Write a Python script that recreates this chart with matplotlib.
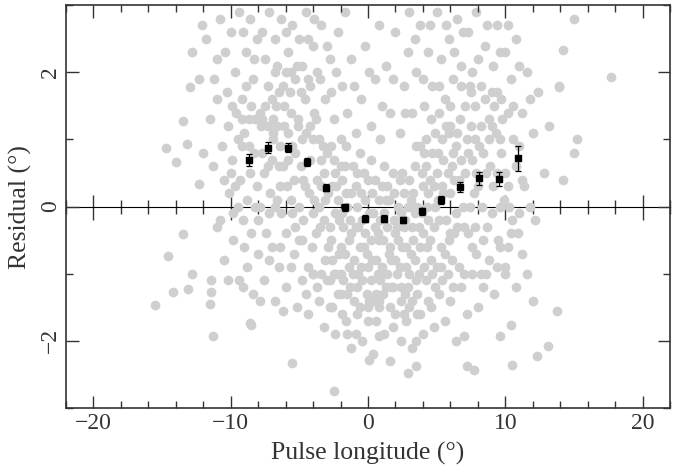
import matplotlib
matplotlib.use("Agg")
import matplotlib.pyplot as plt
from matplotlib.ticker import MultipleLocator, NullFormatter

# binned residuals (black points)
bin_lon = [-8.65, -7.25, -5.85, -4.45, -3.05, -1.65, -0.25, 1.15, 2.55,
           3.95, 5.3, 6.7, 8.1, 9.55, 10.95]
bin_res = [0.70, 0.88, 0.88, 0.67, 0.28, -0.01, -0.18, -0.18, -0.20,
           -0.07, 0.10, 0.29, 0.42, 0.41, 0.72]
bin_err = [0.09, 0.08, 0.07, 0.06, 0.05, 0.05, 0.05, 0.05, 0.05,
           0.05, 0.06, 0.07, 0.10, 0.11, 0.19]

# individual residuals (grey cloud)
core_pts = [
    (-9.3, 0.4), (-9.0, 1.1), (-8.8, 0.1), (-8.5, 1.5), (-8.3, 0.8), (-8.0, -0.2), (-7.8, 1.2),
    (-7.6, 0.5), (-7.3, 1.8), (-7.1, 0.2), (-6.9, 1.0), (-9.6, 1.4), (-8.1, 0.3), (-7.4, -0.4),
    (-9.9, 0.7), (-6.7, 1.5), (-6.5, 0.6), (-6.3, -0.1), (-6.1, 1.2), (-5.9, 0.3), (-5.7, 1.7),
    (-5.5, 0.9), (-5.3, -0.3), (-5.1, 1.3), (-6.8, 0.0), (-6.0, 2.0), (-5.6, 0.1), (-6.4, 0.9),
    (-4.9, 0.6), (-4.7, -0.2), (-4.5, 1.1), (-4.3, 0.2), (-4.1, -0.6), (-3.9, 1.4), (-3.7, 0.4),
    (-3.5, -0.3), (-3.3, 0.9), (-3.1, -0.8), (-4.6, 1.6), (-4.0, -0.1), (-3.6, 0.0), (-4.8, -0.5),
    (-3.2, 0.5), (-2.9, 0.2), (-2.7, -0.5), (-2.5, 0.7), (-2.3, -1.0), (-2.1, -0.2), (-1.9, 0.4),
    (-1.7, -0.7), (-1.5, 0.0), (-1.3, -1.2), (-1.1, 0.6), (-2.8, -1.1), (-2.4, -0.1), (-2.0, -0.6),
    (-1.6, 0.9), (-1.2, -0.4), (-2.6, 0.3), (-1.4, -0.9), (-0.9, -0.3), (-0.7, -1.0), (-0.5, 0.2),
    (-0.3, -0.6), (-0.1, -1.3), (0.1, -0.1), (0.3, -0.8), (0.5, 0.4), (0.7, -0.4), (0.9, -1.1),
    (-0.8, 0.5), (-0.4, -0.2), (0.0, -0.9), (0.4, -1.4), (0.8, 0.1), (-0.6, -1.5), (0.2, 0.7),
    (1.1, -0.5), (1.3, -1.2), (1.5, 0.1), (1.7, -0.8), (1.9, -0.2), (2.1, -1.0), (2.3, 0.4),
    (2.5, -0.6), (2.7, -1.3), (2.9, 0.0), (1.2, 0.6), (1.6, -1.5), (2.0, -0.4), (2.4, -0.1),
    (2.8, -0.9), (1.4, -0.3), (3.1, -0.7), (3.3, 0.2), (3.5, -1.1), (3.7, -0.3), (3.9, 0.5),
    (4.1, -0.9), (4.3, 0.0), (4.5, -0.5), (4.7, 0.8), (4.9, -1.2), (3.2, -1.4), (3.8, 0.9),
    (4.4, -0.2), (4.8, 0.3), (3.4, -0.1), (5.1, 0.1), (5.3, -0.6), (5.5, 0.7), (5.7, -0.2),
    (5.9, 1.1), (6.1, -0.8), (6.3, 0.4), (6.5, -0.3), (6.7, 1.3), (6.9, 0.0), (5.2, 1.4),
    (5.8, -1.0), (6.4, 0.9), (6.0, 0.2), (7.1, 0.5), (7.3, -0.4), (7.5, 1.2), (7.7, 0.2),
    (7.9, -0.7), (8.1, 0.9), (8.3, 0.0), (8.5, 1.6), (8.7, -0.3), (8.9, 0.6), (7.4, 1.8),
    (8.2, -1.0), (7.8, 1.0), (9.1, 0.3), (9.3, 1.1), (9.5, -0.5), (9.7, 0.8), (9.9, 0.1),
    (10.2, 1.4), (10.5, -0.2), (10.8, 0.6), (9.4, 1.7), (10.0, -0.9),
]
core2_pts = [
    (-9.5, 0.0), (-9.2, 0.9), (-8.9, 1.8), (-8.6, 0.5), (-8.2, 1.3), (-7.9, 0.0), (-7.7, 0.8),
    (-7.5, 1.5), (-7.2, -0.1), (-7.0, 0.7), (-6.8, 2.0), (-6.6, 1.2), (-6.4, 0.3), (-6.2, 1.8),
    (-6.0, -0.4), (-5.8, 0.7), (-5.6, 1.4), (-5.4, 0.4), (-5.2, 2.1), (-5.0, 0.0), (-4.8, 1.0),
    (-4.6, 0.3), (-4.4, 1.9), (-4.2, 0.7), (-4.0, -1.0), (-3.8, -0.4), (-3.6, 1.0), (-3.4, 0.3),
    (-3.2, -0.2), (-3.0, -1.1), (-3.0, 0.8), (-2.8, -0.3), (-2.6, -0.8), (-2.4, 0.5), (-2.2, -1.3),
    (-2.2, 0.1), (-2.0, 0.6), (-1.8, -0.3), (-1.8, -1.1), (-1.6, 0.2), (-1.4, -0.5), (-1.2, 0.2),
    (-1.0, -0.8), (-1.0, -1.4), (-0.8, 0.0), (-0.6, -0.6), (-0.6, 0.8), (-0.4, -1.1), (-0.2, 0.1),
    (-0.2, -0.4), (0.0, -1.5), (0.0, 0.4), (0.2, -0.5), (0.2, -1.1), (0.4, -0.1), (0.6, -0.8),
    (0.6, -1.3), (0.8, -0.5), (1.0, 0.3), (1.0, -0.9), (1.2, -0.1), (1.4, -1.0), (1.4, 0.3),
    (1.6, -0.6), (1.8, 0.5), (1.8, -1.2), (2.0, -0.8), (2.2, 0.0), (2.2, -0.5), (2.4, -1.2),
    (2.6, 0.2), (2.6, -0.3), (2.8, -0.6), (3.0, 0.4), (3.0, -1.0), (3.2, -0.3), (3.4, 0.6),
    (3.4, -0.8), (3.6, 0.0), (3.6, -1.3), (3.8, -0.6), (4.0, 0.3), (4.0, -0.4), (4.2, -1.1),
    (4.2, 0.6), (4.4, 0.2), (4.6, -0.8), (4.6, 1.3), (4.8, -0.3), (5.0, 0.5), (5.0, -0.9),
    (5.2, -0.2), (5.4, 1.0), (5.4, 0.3), (5.6, -0.7), (5.8, 0.5), (6.0, 1.5), (6.0, -0.4),
    (6.2, 0.8), (6.4, -0.1), (6.6, 0.4), (6.6, -0.9), (6.8, 1.8), (6.8, 0.7), (7.0, -0.3),
    (7.2, 1.0), (7.4, 0.0), (7.6, 0.7), (7.6, -0.6), (7.8, 1.5), (8.0, 0.3), (8.2, 1.2),
    (8.4, -0.5), (8.6, 0.5), (8.8, 1.0), (9.0, -0.1), (9.2, 1.5), (9.4, 0.5), (9.6, 0.0),
    (9.8, 1.3), (10.0, 0.5), (10.3, 0.0), (10.6, 1.0), (10.9, -0.4), (11.2, 0.4), (-10.2, 1.2),
    (-10.5, 0.4), (-9.8, -0.1), (-10.8, -0.2), (-11.3, 0.6), (-11.0, 1.6), (-9.0, -0.6),
    (-8.5, -0.4), (-7.0, -0.6), (-6.5, -0.9), (-5.4, -0.7), (-4.5, -1.3), (-3.4, -1.0),
    (-2.6, -1.5), (-1.9, -1.6), (-0.9, -1.9), (0.6, -1.7), (1.8, -1.8), (2.6, -1.6), (3.8, -1.6),
    (4.6, -1.5), (5.4, -1.1), (6.2, -1.2), (7.0, -1.0), (7.8, -0.3), (8.6, -1.0), (9.4, -0.9),
    (10.2, -0.6), (11.0, -0.1),
]
core3_pts = [
    (-5.3, 0.8), (-5.0, -0.5), (-4.7, 0.4), (-4.4, -0.9), (-4.2, 1.2), (-3.9, 0.1), (-3.7, -1.2),
    (-3.4, 0.7), (-3.1, 0.1), (-2.9, -0.6), (-2.7, 0.9), (-2.5, -1.0), (-2.3, 0.3), (-2.1, -0.7),
    (-1.9, -0.1), (-1.7, 0.6), (-1.5, -1.3), (-1.3, -0.2), (-1.1, -1.0), (-0.9, 0.3), (-0.7, -0.3),
    (-0.5, -0.9), (-0.3, 0.5), (-0.1, -0.7), (0.1, -1.4), (0.3, 0.2), (0.5, -0.3), (0.7, -1.0),
    (0.9, -0.2), (1.1, -1.3), (1.3, 0.1), (1.5, -0.7), (1.7, -1.2), (1.9, 0.2), (2.1, -0.3),
    (2.3, -0.9), (2.5, 0.5), (2.7, -0.2), (2.9, -1.2), (3.1, 0.1), (3.3, -0.5), (3.5, 0.9),
    (3.7, -1.0), (3.9, -0.1), (4.1, 0.8), (4.3, -0.6), (4.5, 0.4), (4.7, -1.0), (4.9, 0.0),
    (5.1, 0.8), (5.3, -0.9), (5.5, 0.2), (5.7, 1.2), (5.9, -0.5), (6.1, 0.6), (6.3, -0.4),
    (6.5, 1.1), (-8.7, 0.9), (-8.2, 0.0), (-7.7, 1.3), (-7.3, 0.6), (-6.9, 1.3), (-6.6, 0.1),
    (-6.2, 0.6), (-5.8, 1.1), (-5.5, -0.1), (7.3, 0.8), (7.9, 0.5), (8.4, 0.8), (9.0, 1.2),
    (9.6, 1.0), (10.2, 0.3), (-9.7, 0.3), (-9.2, 1.3), (-4.0, 1.0), (-0.8, -1.2), (0.8, -1.4),
    (2.4, -1.4), (-2.0, -1.0), (3.0, -1.5),
]
upper_pts = [
    (-11.5, 1.3), (-11.0, 2.2), (-10.6, 0.9), (-10.3, 1.7), (-10.0, 2.6), (-9.7, 2.0), (-9.4, 2.9),
    (-9.2, 1.6), (-8.9, 2.3), (-8.6, 2.8), (-8.4, 1.9), (-8.1, 2.5), (-7.9, 1.4), (-7.5, 2.2),
    (-7.2, 2.9), (-7.0, 1.6), (-6.8, 2.5), (-6.6, 2.1), (-6.3, 2.8), (-6.1, 1.5), (-5.8, 2.3),
    (-5.5, 2.7), (-5.3, 1.9), (-5.0, 2.5), (-4.8, 2.1), (-4.5, 2.9), (-4.2, 1.8), (-4.0, 2.4),
    (-3.7, 2.0), (-3.4, 2.7), (-3.1, 1.6), (-2.8, 2.2), (-10.8, 2.8), (-11.8, 2.5), (-12.3, 1.9),
    (-12.0, 0.8), (-9.5, 1.0), (-5.1, 1.2), (-3.8, 1.3), (-6.9, 1.1), (-8.7, 1.3),
    (-2.5, 1.3), (-2.2, 2.6), (-1.9, 1.8), (-1.5, 1.4), (-1.2, 2.2), (-0.9, 1.1), (-0.5, 1.6),
    (-0.2, 2.4), (0.2, 1.2), (0.5, 1.9), (0.9, 1.0), (1.3, 2.1), (1.6, 1.4), (2.0, 2.6),
    (2.3, 1.1), (2.6, 1.8), (2.9, 2.3), (-1.7, 2.9), (0.8, 2.7), (-2.0, 1.0), (1.0, 1.5),
    (3.2, 1.4), (3.5, 2.0), (3.8, 2.7), (4.1, 1.5), (4.4, 2.3), (4.7, 1.8), (5.0, 2.9),
    (5.3, 2.2), (5.6, 1.6), (5.9, 2.5), (6.2, 1.9), (6.5, 2.8), (6.8, 2.1), (7.1, 1.5),
    (7.3, 2.6), (7.6, 2.0), (7.9, 2.9), (8.2, 1.8), (8.5, 2.4), (8.8, 1.3), (9.1, 2.1),
    (9.4, 2.7), (9.7, 1.6), (10.0, 2.3), (10.4, 1.9), (10.8, 2.5), (11.2, 1.4), (11.6, 2.0),
    (12.0, 1.1), (12.4, 1.7), (11.0, 0.9), (12.8, 0.5), (13.2, 1.2), (13.9, 1.8), (4.2, 1.0),
    (6.0, 1.2), (11.4, 0.3), (12.2, -0.2), (3.0, 2.9), (4.9, 1.1),
    (-10.4, 2.3), (-9.9, 1.5), (-9.1, 2.6), (-8.3, 2.2), (-7.7, 2.6), (-7.3, 1.2), (-6.5, 1.7),
    (-6.0, 2.6), (-5.6, 2.0), (-4.9, 1.7), (-4.4, 2.5), (-3.9, 2.8), (-3.5, 1.9), (-3.0, 2.4),
    (-2.7, 1.7), (-2.3, 2.0), (-1.0, 1.8), (0.1, 2.0), (1.8, 1.9), (2.7, 1.4), (3.4, 2.5),
    (4.0, 1.9), (4.5, 2.7), (5.2, 1.8), (5.7, 2.7), (6.3, 2.3), (6.9, 2.6), (7.5, 1.7),
    (8.0, 2.2), (8.7, 2.7), (9.0, 1.7), (9.6, 2.3), (10.2, 2.7), (10.6, 1.5), (11.0, 2.1),
    (11.8, 1.6), (-11.2, 1.9), (-10.0, 0.5),
]
lower_pts = [
    (-11.0, -0.3), (-10.5, -0.8), (-10.1, 0.2), (-9.8, -0.5), (-9.4, -1.1), (-9.1, -0.2),
    (-8.8, -0.9), (-8.4, -1.3), (-8.0, -0.7), (-7.6, -1.1), (-7.2, -0.8), (-6.8, -1.4),
    (-6.4, -0.6), (-6.0, -1.2), (-5.6, -0.9), (-5.2, -1.5), (-4.8, -1.1), (-4.4, -1.6),
    (-4.0, -1.0), (-3.6, -1.4), (-3.2, -1.8), (-2.8, -1.5), (-2.4, -1.9), (-2.0, -1.3),
    (-1.6, -1.7), (-1.2, -2.1), (-0.8, -1.6), (-0.4, -2.0), (0.0, -1.7), (0.4, -2.2),
    (0.8, -1.5), (1.2, -1.9), (1.6, -2.3), (2.0, -1.6), (2.4, -2.0), (2.8, -1.7), (3.2, -2.1),
    (3.6, -1.6), (4.0, -1.9), (4.4, -1.4), (4.8, -1.8), (5.2, -1.3), (5.6, -1.7), (6.0, -1.4),
    (6.4, -2.0), (6.8, -1.2), (7.2, -1.6), (7.6, -1.0), (8.0, -1.5), (8.4, -1.2), (8.8, -0.8),
    (9.2, -1.3), (9.6, -0.6), (10.0, -1.0), (10.4, -0.4), (10.8, -1.2), (11.2, -0.7),
    (11.6, -1.0), (12.0, -1.4), (11.8, 0.0),
]
fringe_pts = [
    (-15.5, -1.47), (-14.2, -1.27), (-13.1, -1.22), (-11.3, -1.93), (-8.5, -1.77), (-5.5, -2.33),
    (-6.2, -1.55), (-2.45, -2.75), (0.1, -2.29), (2.9, -2.48), (3.5, -2.38), (7.2, -2.38),
    (7.7, -2.43), (10.5, -2.36), (12.3, -2.23), (13.1, -2.08), (13.8, -1.55), (7.0, -1.93),
    (9.6, -1.92), (10.4, -1.77), (3.5, -2.0), (0.8, -1.93), (-1.5, -1.89), (17.7, 1.93),
    (15.0, 0.8), (15.2, 1.0), (14.2, 0.4), (14.2, 2.33), (15.0, 2.8), (13.9, 1.78),
    (-14.7, 0.88), (-13.5, 1.27), (-13.0, 1.78), (-12.8, 2.3), (-12.1, 2.7), (-13.2, 0.93),
    (-14.0, 0.67), (-12.3, 0.33), (-14.6, -0.74), (-13.5, -0.41), (-12.8, -1.0), (-11.4, -1.1),
    (-11.4, -1.27), (-11.5, -1.45), (-9.1, -1.19), (-8.6, -1.74), (-7.9, -1.4), (-10.2, -1.1),
]

ink = "#333333"
plt.rcParams["font.family"] = ["Liberation Serif", "DejaVu Serif"]

fig = plt.figure(figsize=(6.73, 4.75), dpi=100)
ax = fig.add_axes([0.098, 0.141, 0.8975, 0.848])

for pts in (core_pts, core2_pts, core3_pts, upper_pts, lower_pts, fringe_pts):
    xs = [p[0] for p in pts]
    ys = [p[1] for p in pts]
    ax.plot(xs, ys, "o", ms=7, color="#cfcfcf", mec="none", zorder=1)

ax.errorbar(bin_lon, bin_res, yerr=bin_err, fmt="s", ms=4, color="black",
            ecolor="black", elinewidth=0.9, capsize=2, capthick=0.9, zorder=3)

ax.set_xlim(-22, 22)
ax.set_ylim(-3, 3)
ax.xaxis.set_major_locator(MultipleLocator(10))
ax.xaxis.set_minor_locator(MultipleLocator(2))
ax.yaxis.set_major_locator(MultipleLocator(2))
ax.yaxis.set_minor_locator(MultipleLocator(1))
ax.tick_params(which="both", direction="in", top=True, right=True, colors=ink,
               labelsize=17, width=1)
ax.tick_params(which="major", length=9)
ax.tick_params(which="minor", length=5)
for lab in ax.get_yticklabels():
    lab.set_rotation(90)
    lab.set_va("center")
for s in ax.spines.values():
    s.set_color(ink)
    s.set_linewidth(1.2)

# zero line with ticks on it
zero = ax.secondary_xaxis(0.5)
zero.spines["bottom"].set_color(ink)
zero.spines["bottom"].set_linewidth(1.2)
zero.xaxis.set_major_locator(MultipleLocator(10))
zero.xaxis.set_minor_locator(MultipleLocator(2))
zero.xaxis.set_major_formatter(NullFormatter())
zero.tick_params(which="both", direction="inout", colors=ink, width=1)
zero.tick_params(which="major", length=18)
zero.tick_params(which="minor", length=10)

ax.set_xlabel("Pulse longitude (°)", fontsize=18.5, color=ink, labelpad=6)
ax.set_ylabel("Residual (°)", fontsize=18.5, color=ink, labelpad=6)

fig.savefig("out.png", dpi=100)
